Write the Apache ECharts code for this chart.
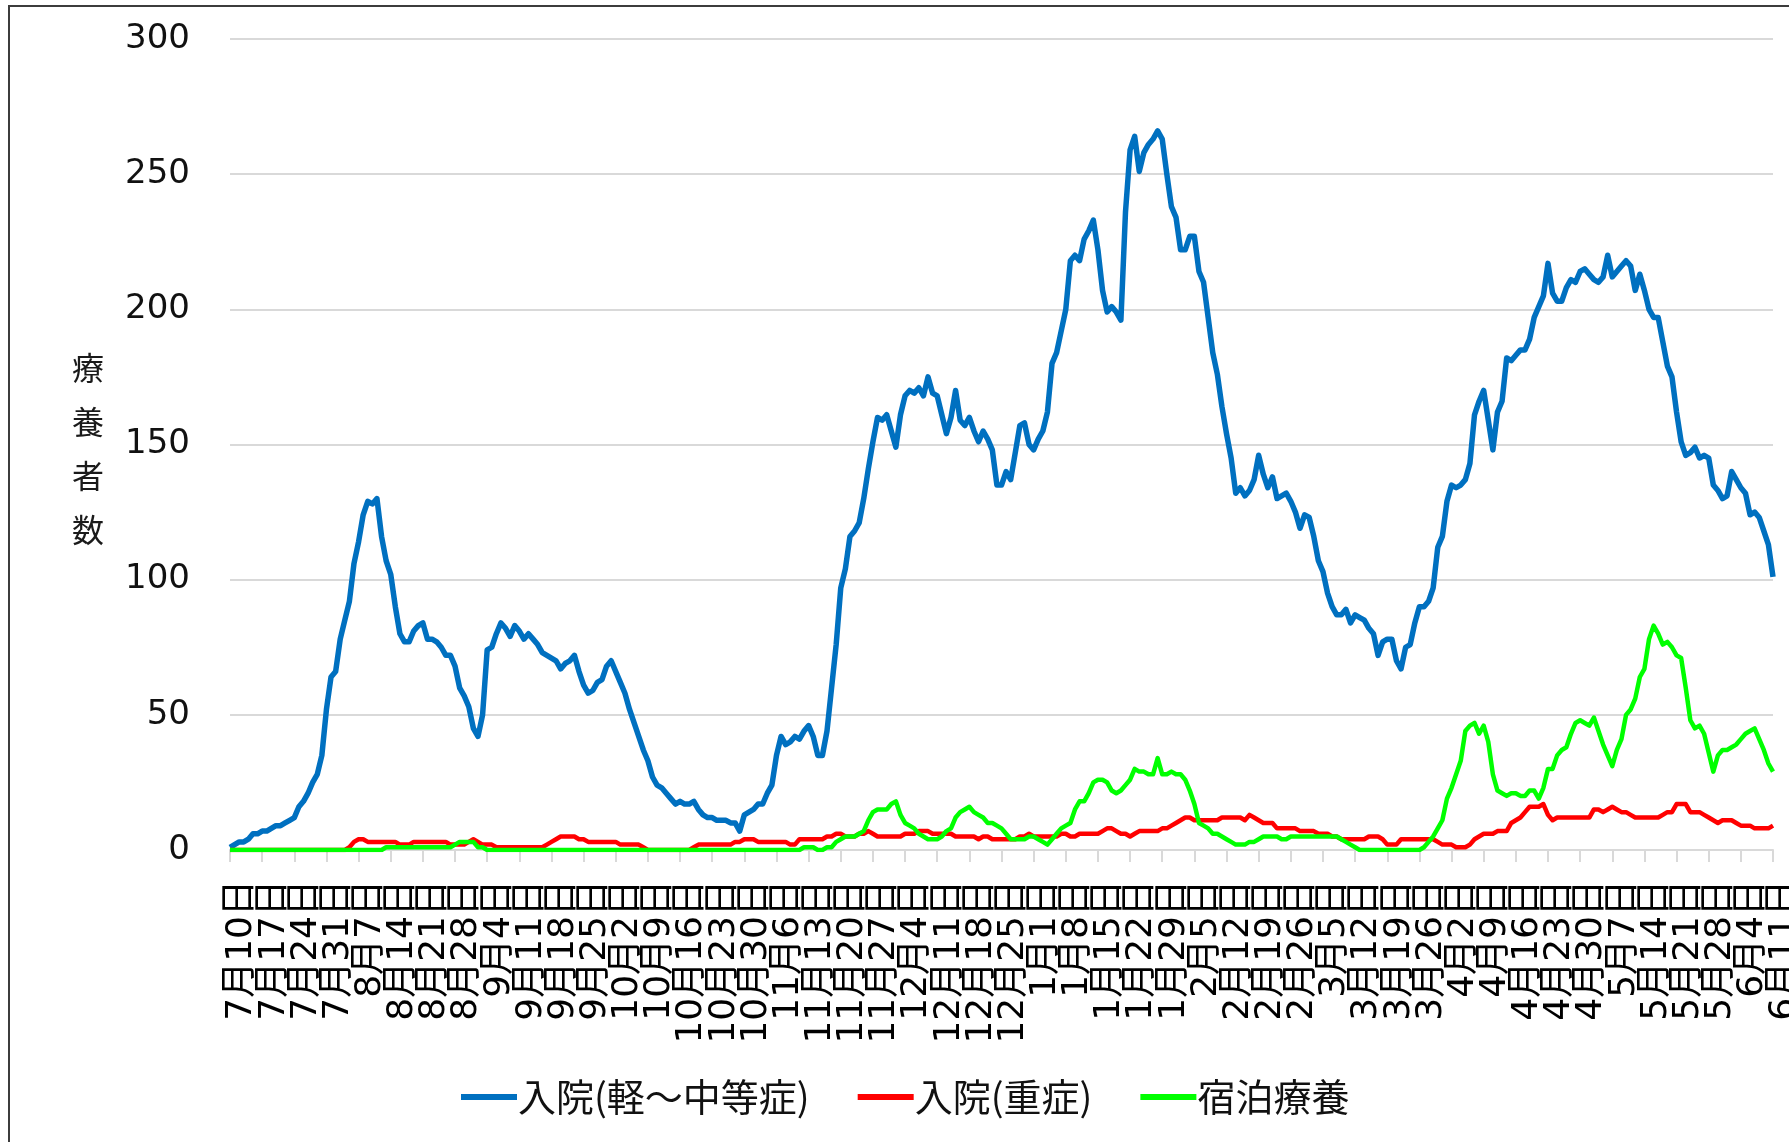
<!DOCTYPE html>
<html>
<head>
<meta charset="utf-8">
<script src="https://cdn.jsdelivr.net/npm/echarts@6/dist/echarts.min.js"></script>
<style>
    html, body { margin: 0; padding: 0; background: #fff; }
    #chart { width: 1789px; height: 1142px; }
</style>
</head>
<body>
<div id="chart"></div>
<script>
// daily values, 2020-07-10 .. 2021-06-11 (337 days)
const START_DATE = [2020, 7, 10];
const DAY_COUNT = 337;
const LABEL_STEP = 7; // one date label per week

const seriesNames = ['入院(軽～中等症)', '入院(重症)', '宿泊療養'];
const yTitle = '療養者数';

// 入院(軽～中等症)
const mild = [
    1, 2, 3, 3, 4, 6, 6, 7, 7, 8,
    9, 9, 10, 11, 12, 16, 18, 21, 25, 28,
    35, 52, 64, 66, 78, 85, 92, 106, 114, 124,
    129, 128, 130, 116, 107, 102, 90, 80, 77, 77,
    81, 83, 84, 78, 78, 77, 75, 72, 72, 68,
    60, 57, 53, 45, 42, 50, 74, 75, 80, 84,
    82, 79, 83, 81, 78, 80, 78, 76, 73, 72,
    71, 70, 67, 69, 70, 72, 66, 61, 58, 59,
    62, 63, 68, 70, 66, 62, 58, 52, 47, 42,
    37, 33, 27, 24, 23, 21, 19, 17, 18, 17,
    17, 18, 15, 13, 12, 12, 11, 11, 11, 10,
    10, 7, 13, 14, 15, 17, 17, 21, 24, 35,
    42, 39, 40, 42, 41, 44, 46, 42, 35, 35,
    44, 60, 76, 97, 104, 116, 118, 121, 130, 141,
    151, 160, 159, 161, 155, 149, 161, 168, 170, 169,
    171, 168, 175, 169, 168, 161, 154, 160, 170, 159,
    157, 160, 155, 151, 155, 152, 148, 135, 135, 140,
    137, 147, 157, 158, 150, 148, 152, 155, 162, 180,
    184, 192, 200, 218, 220, 218, 226, 229, 233, 222,
    207, 199, 201, 199, 196, 236, 259, 264, 251, 258,
    261, 263, 266, 263, 250, 238, 234, 222, 222, 227,
    227, 214, 210, 197, 184, 176, 164, 154, 145, 132,
    134, 131, 133, 137, 146, 139, 134, 138, 130, 131,
    132, 129, 125, 119, 124, 123, 116, 107, 103, 95,
    90, 87, 87, 89, 84, 87, 86, 85, 82, 80,
    72, 77, 78, 78, 70, 67, 75, 76, 84, 90,
    90, 92, 97, 112, 116, 129, 135, 134, 135, 137,
    143, 161, 166, 170, 159, 148, 162, 166, 182, 181,
    183, 185, 185, 189, 197, 201, 205, 217, 206, 203,
    203, 208, 211, 210, 214, 215, 213, 211, 210, 212,
    220, 212, 214, 216, 218, 216, 207, 213, 207, 200,
    197, 197, 188, 179, 175, 162, 151, 146, 147, 149,
    145, 146, 145, 135, 133, 130, 131, 140, 137, 134,
    132, 124, 125, 123, 118, 113, 101
];

// 入院(重症)
const severe = [
    0, 0, 0, 0, 0, 0, 0, 0, 0, 0,
    0, 0, 0, 0, 0, 0, 0, 0, 0, 0,
    0, 0, 0, 0, 0, 0, 1, 3, 4, 4,
    3, 3, 3, 3, 3, 3, 3, 2, 2, 2,
    3, 3, 3, 3, 3, 3, 3, 3, 2, 2,
    2, 2, 3, 4, 3, 2, 2, 2, 1, 1,
    1, 1, 1, 1, 1, 1, 1, 1, 1, 2,
    3, 4, 5, 5, 5, 5, 4, 4, 3, 3,
    3, 3, 3, 3, 3, 2, 2, 2, 2, 2,
    1, 0, 0, 0, 0, 0, 0, 0, 0, 0,
    0, 1, 2, 2, 2, 2, 2, 2, 2, 2,
    3, 3, 4, 4, 4, 3, 3, 3, 3, 3,
    3, 3, 2, 2, 4, 4, 4, 4, 4, 4,
    5, 5, 6, 6, 5, 5, 5, 6, 6, 7,
    6, 5, 5, 5, 5, 5, 5, 6, 6, 6,
    7, 7, 7, 6, 6, 6, 6, 6, 5, 5,
    5, 5, 5, 4, 5, 5, 4, 4, 4, 4,
    4, 4, 5, 5, 6, 5, 5, 5, 5, 5,
    5, 6, 6, 5, 5, 6, 6, 6, 6, 6,
    7, 8, 8, 7, 6, 6, 5, 6, 7, 7,
    7, 7, 7, 8, 8, 9, 10, 11, 12, 12,
    11, 11, 11, 11, 11, 11, 12, 12, 12, 12,
    12, 11, 13, 12, 11, 10, 10, 10, 8, 8,
    8, 8, 8, 7, 7, 7, 7, 6, 6, 6,
    5, 5, 4, 4, 4, 4, 4, 4, 5, 5,
    5, 4, 2, 2, 2, 4, 4, 4, 4, 4,
    4, 4, 4, 3, 2, 2, 2, 1, 1, 1,
    2, 4, 5, 6, 6, 6, 7, 7, 7, 10,
    11, 12, 14, 16, 16, 16, 17, 13, 11, 12,
    12, 12, 12, 12, 12, 12, 12, 15, 15, 14,
    15, 16, 15, 14, 14, 13, 12, 12, 12, 12,
    12, 12, 13, 14, 14, 17, 17, 17, 14, 14,
    14, 13, 12, 11, 10, 11, 11, 11, 10, 9,
    9, 9, 8, 8, 8, 8, 9
];

// 宿泊療養
const hotel = [
    0, 0, 0, 0, 0, 0, 0, 0, 0, 0,
    0, 0, 0, 0, 0, 0, 0, 0, 0, 0,
    0, 0, 0, 0, 0, 0, 0, 0, 0, 0,
    0, 0, 0, 0, 1, 1, 1, 1, 1, 1,
    1, 1, 1, 1, 1, 1, 1, 1, 1, 2,
    3, 3, 3, 3, 1, 1, 0, 0, 0, 0,
    0, 0, 0, 0, 0, 0, 0, 0, 0, 0,
    0, 0, 0, 0, 0, 0, 0, 0, 0, 0,
    0, 0, 0, 0, 0, 0, 0, 0, 0, 0,
    0, 0, 0, 0, 0, 0, 0, 0, 0, 0,
    0, 0, 0, 0, 0, 0, 0, 0, 0, 0,
    0, 0, 0, 0, 0, 0, 0, 0, 0, 0,
    0, 0, 0, 0, 0, 1, 1, 1, 0, 0,
    1, 1, 3, 4, 5, 5, 5, 6, 7, 11,
    14, 15, 15, 15, 17, 18, 13, 10, 9, 8,
    6, 5, 4, 4, 4, 5, 7, 8, 12, 14,
    15, 16, 14, 13, 12, 10, 10, 9, 8, 6,
    4, 4, 4, 4, 5, 5, 4, 3, 2, 4,
    6, 8, 9, 10, 15, 18, 18, 21, 25, 26,
    26, 25, 22, 21, 22, 24, 26, 30, 29, 29,
    28, 28, 34, 28, 28, 29, 28, 28, 26, 22,
    17, 10, 9, 8, 6, 6, 5, 4, 3, 2,
    2, 2, 3, 3, 4, 5, 5, 5, 5, 4,
    4, 5, 5, 5, 5, 5, 5, 5, 5, 5,
    5, 5, 4, 3, 2, 1, 0, 0, 0, 0,
    0, 0, 0, 0, 0, 0, 0, 0, 0, 0,
    1, 3, 5, 8, 11, 19, 23, 28, 33, 44,
    46, 47, 43, 46, 40, 28, 22, 21, 20, 21,
    21, 20, 20, 22, 22, 19, 23, 30, 30, 35,
    37, 38, 43, 47, 48, 47, 46, 49, 44, 39,
    35, 31, 37, 41, 50, 52, 56, 64, 67, 78,
    83, 80, 76, 77, 75, 72, 71, 60, 48, 45,
    46, 43, 36, 29, 35, 37, 37, 38, 39, 41,
    43, 44, 45, 41, 37, 32, 29
];

const colors = ['#0070C0', '#FF0000', '#00FF00'];

// category labels: M月D日 for every day
const dates = [];
for (let i = 0; i < DAY_COUNT; i++) {
    const d = new Date(START_DATE[0], START_DATE[1] - 1, START_DATE[2] + i);
    dates.push((d.getMonth() + 1) + '月' + d.getDate() + '日');
}

const FONT = "'DejaVu Sans', 'Noto Sans CJK JP', sans-serif";
const chart = echarts.init(document.getElementById('chart'), null, { renderer: 'canvas' });

chart.setOption({
    animation: false,
    backgroundColor: '#ffffff',
    color: colors,
    // fixed plot box: the last date label is allowed to run off the right edge
    grid: { left: 230, right: 16, top: 39, bottom: 292, outerBoundsMode: 'none', containLabel: false },
    graphic: [
        {
            // outer frame, only left and top edges are in view
            type: 'rect',
            silent: true,
            z: -1,
            shape: { x: 9, y: 6, width: 1900, height: 1300 },
            style: { fill: 'transparent', stroke: '#3c3c3c', lineWidth: 2 }
        },
        {
            type: 'text',
            silent: true,
            x: 88,
            y: 449,
            style: {
                text: yTitle.split('').join('\n'),
                font: "32px 'Noto Sans CJK JP', sans-serif",
                lineHeight: 54,
                fill: '#1a1a1a',
                align: 'center',
                verticalAlign: 'middle'
            }
        }
    ],
    legend: {
        data: seriesNames,
        left: 456,
        top: 1073,
        icon: 'rect',
        itemWidth: 56,
        itemHeight: 6,
        itemGap: 48,
        textStyle: {
            fontFamily: "'Noto Sans CJK JP', sans-serif",
            fontSize: 38,
            color: '#111',
            padding: [0, 0, 0, -4]
        }
    },
    xAxis: {
        type: 'category',
        data: dates,
        boundaryGap: false,
        axisLine: { lineStyle: { color: '#d9d9d9', width: 2 } },
        axisTick: { show: true, interval: LABEL_STEP - 1, length: 12, lineStyle: { color: '#d9d9d9', width: 2 } },
        axisLabel: {
            // every category gets a label slot, only weekly ones carry text,
            // so first and last dates stay visible next to their neighbours
            interval: 0,
            formatter: (value, index) => (index % LABEL_STEP === 0 ? value : ''),
            rotate: 90,
            margin: 30,
            // rotated text hangs to the right of its tick, like the original
            verticalAlign: 'top',
            lineHeight: 24,
            fontFamily: FONT,
            fontSize: 36,
            color: '#000'
        },
        splitLine: { show: false }
    },
    yAxis: {
        type: 'value',
        min: 0,
        max: 300,
        interval: 50,
        axisLine: { show: false },
        axisTick: { show: false },
        axisLabel: {
            margin: 40,
            fontFamily: FONT,
            fontSize: 34,
            color: '#111'
        },
        splitLine: { lineStyle: { color: '#d9d9d9', width: 2 } }
    },
    series: [
        { name: seriesNames[0], type: 'line', data: mild, showSymbol: false, lineStyle: { width: 5.5, join: 'round' }, z: 2 },
        { name: seriesNames[1], type: 'line', data: severe, showSymbol: false, lineStyle: { width: 4.5, join: 'round' }, z: 3 },
        { name: seriesNames[2], type: 'line', data: hotel, showSymbol: false, lineStyle: { width: 4.5, join: 'round' }, z: 4 }
    ]
});
</script>
</body>
</html>
